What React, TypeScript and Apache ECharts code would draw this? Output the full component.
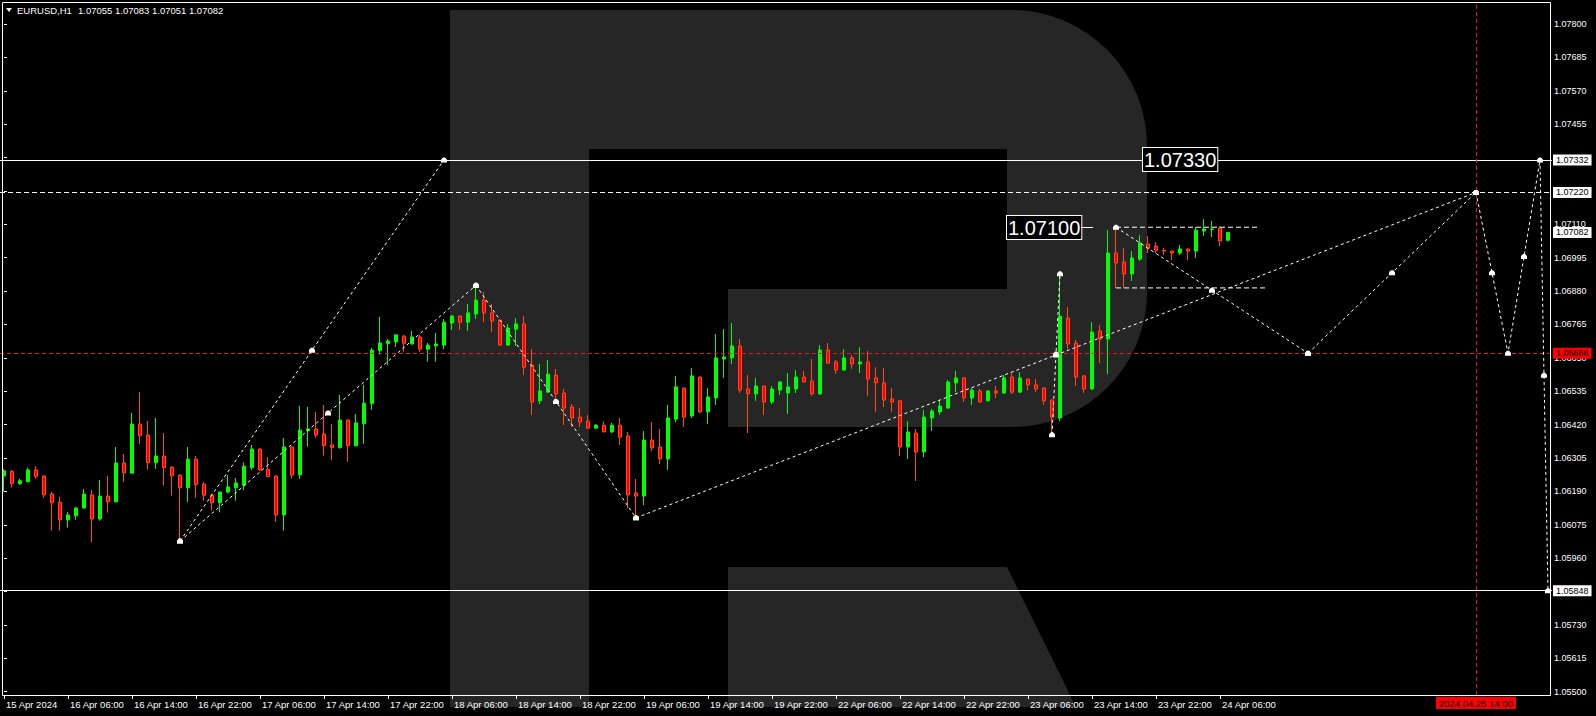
import React, { useEffect, useRef } from "react";
import * as echarts from "echarts";

// ---------- data ----------
const symbolName = "EURUSD,H1";

const opens = [
  1.06243,1.06259,1.06217,1.06223,1.06264,1.06243,1.06181,1.06153,1.06092,1.06106,
  1.06133,1.06178,1.06095,1.06174,1.06154,1.06288,1.06253,1.06422,1.06384,1.06289,
  1.06312,1.06273,1.06246,1.06203,1.06301,1.06215,1.06177,1.06151,1.06188,1.06203,
  1.06212,1.06272,1.06336,1.06266,1.06243,1.06109,1.06343,1.06247,1.06399,1.06405,
  1.06388,1.06350,1.06341,1.06436,1.06347,1.06423,1.06492,1.06675,1.06699,1.06705,
  1.06725,1.06698,1.06722,1.06680,1.06691,1.06694,1.06770,1.06794,1.06773,1.06801,
  1.06849,1.06805,1.06780,1.06694,1.06749,1.06767,1.06625,1.06502,1.06532,1.06591,
  1.06529,1.06481,1.06446,1.06432,1.06408,1.06418,1.06395,1.06418,1.06381,1.06185,
  1.06174,1.06367,1.06343,1.06302,1.06439,1.06546,1.06450,1.06584,1.06464,1.06512,
  1.06646,1.06650,1.06691,1.06543,1.06526,1.06553,1.06498,1.06539,1.06529,1.06543,
  1.06584,1.06570,1.06526,1.06677,1.06636,1.06608,1.06650,1.06629,1.06636,1.06581,
  1.06564,1.06508,1.06502,1.06343,1.06391,1.06326,1.06443,1.06464,1.06477,1.06564,
  1.06581,1.06512,1.06536,1.06502,1.06536,1.06529,1.06584,1.06532,1.06577,1.06557,
  1.06546,1.06505,1.06443,1.06787,1.06701,1.06588,1.06543,1.06743,1.06715,1.07011,
  1.06980,1.06939,1.06990,1.07042,1.07035,1.07021,1.07018,1.07011,1.07025,1.07018,
  1.07087,1.07092,1.07097,1.07055,
];
const highs = [
  1.06267,1.06264,1.06233,1.06272,1.06277,1.06245,1.06188,1.06171,1.06119,1.06137,
  1.06198,1.06195,1.06229,1.06243,1.06343,1.06319,1.06460,1.06532,1.06433,1.06443,
  1.06391,1.06277,1.06249,1.06343,1.06312,1.06222,1.06183,1.06189,1.06247,1.06236,
  1.06290,1.06350,1.06339,1.06308,1.06245,1.06374,1.06345,1.06484,1.06481,1.06464,
  1.06488,1.06422,1.06522,1.06439,1.06457,1.06557,1.06684,1.06791,1.06715,1.06731,
  1.06729,1.06743,1.06729,1.06701,1.06736,1.06784,1.06798,1.06796,1.06836,1.06901,
  1.06877,1.06836,1.06782,1.06767,1.06787,1.06794,1.06680,1.06629,1.06643,1.06612,
  1.06543,1.06491,1.06477,1.06453,1.06422,1.06432,1.06426,1.06443,1.06395,1.06233,
  1.06398,1.06429,1.06405,1.06488,1.06588,1.06548,1.06615,1.06586,1.06546,1.06732,
  1.06749,1.06770,1.06715,1.06591,1.06581,1.06555,1.06553,1.06570,1.06598,1.06608,
  1.06605,1.06646,1.06694,1.06701,1.06643,1.06680,1.06660,1.06687,1.06674,1.06618,
  1.06615,1.06546,1.06505,1.06432,1.06405,1.06470,1.06474,1.06505,1.06574,1.06605,
  1.06583,1.06546,1.06543,1.06539,1.06553,1.06591,1.06598,1.06601,1.06579,1.06577,
  1.06548,1.06507,1.06940,1.06825,1.06712,1.06590,1.06773,1.06763,1.07090,1.07100,
  1.07028,1.07018,1.07073,1.07070,1.07049,1.07028,1.07019,1.07039,1.07026,1.07101,
  1.07128,1.07122,1.07104,1.07083,
];
const lows = [
  1.06189,1.06204,1.06212,1.06222,1.06234,1.06168,1.06055,1.06055,1.06065,1.06092,
  1.06130,1.06015,1.06089,1.06117,1.06153,1.06223,1.06251,1.06354,1.06265,1.06268,
  1.06210,1.06175,1.06019,1.06154,1.06168,1.06158,1.06124,1.06118,1.06183,1.06158,
  1.06195,1.06264,1.06260,1.06239,1.06085,1.06055,1.06234,1.06233,1.06344,1.06375,
  1.06313,1.06298,1.06337,1.06292,1.06345,1.06354,1.06471,1.06661,1.06626,1.06688,
  1.06671,1.06696,1.06671,1.06637,1.06637,1.06680,1.06746,1.06746,1.06743,1.06784,
  1.06773,1.06739,1.06692,1.06691,1.06691,1.06591,1.06453,1.06491,1.06530,1.06508,
  1.06419,1.06412,1.06412,1.06406,1.06406,1.06394,1.06391,1.06350,1.06133,1.06099,
  1.06143,1.06329,1.06284,1.06264,1.06429,1.06412,1.06443,1.06460,1.06422,1.06488,
  1.06581,1.06629,1.06529,1.06391,1.06502,1.06453,1.06491,1.06522,1.06457,1.06529,
  1.06565,1.06519,1.06522,1.06629,1.06594,1.06605,1.06612,1.06598,1.06519,1.06464,
  1.06481,1.06464,1.06312,1.06302,1.06226,1.06308,1.06398,1.06453,1.06474,1.06532,
  1.06498,1.06488,1.06496,1.06500,1.06512,1.06527,1.06526,1.06529,1.06539,1.06532,
  1.06488,1.06385,1.06432,1.06680,1.06553,1.06529,1.06539,1.06632,1.06594,1.06891,
  1.06891,1.06915,1.06984,1.07011,1.07011,1.07004,1.06987,1.07004,1.06987,1.06994,
  1.07070,1.07066,1.07035,1.07051,
];
const closes = [
  1.06261,1.06218,1.06227,1.06264,1.06241,1.06178,1.06151,1.06092,1.06109,1.06133,
  1.06181,1.06095,1.06174,1.06154,1.06288,1.06254,1.06422,1.06382,1.06289,1.06312,
  1.06272,1.06244,1.06203,1.06301,1.06214,1.06177,1.06151,1.06188,1.06205,1.06219,
  1.06277,1.06336,1.06264,1.06241,1.06109,1.06343,1.06246,1.06401,1.06405,1.06384,
  1.06347,1.06341,1.06436,1.06347,1.06426,1.06494,1.06677,1.06701,1.06708,1.06729,
  1.06700,1.06722,1.06680,1.06694,1.06698,1.06773,1.06794,1.06773,1.06805,1.06849,
  1.06805,1.06777,1.06694,1.06753,1.06767,1.06618,1.06498,1.06536,1.06594,1.06526,
  1.06477,1.06443,1.06429,1.06408,1.06418,1.06395,1.06418,1.06377,1.06178,1.06174,
  1.06367,1.06340,1.06302,1.06443,1.06550,1.06446,1.06588,1.06464,1.06515,1.06650,
  1.06653,1.06691,1.06539,1.06526,1.06553,1.06498,1.06543,1.06567,1.06550,1.06584,
  1.06567,1.06526,1.06677,1.06632,1.06608,1.06650,1.06629,1.06636,1.06577,1.06564,
  1.06505,1.06498,1.06343,1.06395,1.06326,1.06446,1.06467,1.06484,1.06567,1.06581,
  1.06512,1.06539,1.06498,1.06536,1.06529,1.06581,1.06532,1.06581,1.06557,1.06543,
  1.06502,1.06446,1.06794,1.06698,1.06584,1.06543,1.06739,1.06715,1.07011,1.06977,
  1.06939,1.06994,1.07046,1.07028,1.07021,1.07018,1.07011,1.07025,1.07018,1.07090,
  1.07094,1.07094,1.07053,1.07082,
];

const xTickLabels = [
  "15 Apr 2024", "16 Apr 06:00", "16 Apr 14:00", "16 Apr 22:00", "17 Apr 06:00",
  "17 Apr 14:00", "17 Apr 22:00", "18 Apr 06:00", "18 Apr 14:00", "18 Apr 22:00",
  "19 Apr 06:00", "19 Apr 14:00", "19 Apr 22:00", "22 Apr 06:00", "22 Apr 14:00",
  "22 Apr 22:00", "23 Apr 06:00", "23 Apr 14:00", "23 Apr 22:00", "24 Apr 06:00",
];
const barsPerTick = 8;
const futureBars = 40;

const yTicks = [
  1.055, 1.05615, 1.0573, 1.05845, 1.0596, 1.06075, 1.0619, 1.06305, 1.0642, 1.06535,
  1.0665, 1.06765, 1.0688, 1.06995, 1.0711, 1.07225, 1.0734, 1.07455, 1.0757, 1.07685, 1.078,
];
const yMin = 1.054888;
const yMax = 1.078758;

// analysis (wave) polylines: [bar index, price]
const waveA = [[22, 1.06019], [38.5, 1.06676], [55, 1.07332]];
const waveB = [[22, 1.06019], [40.5, 1.0646], [59, 1.069]];
const waveC = [[59, 1.069], [69, 1.065], [79, 1.06099]];
const waveD = [[79, 1.06099], [131.5, 1.0666], [184, 1.0722]];
const waveE = [[131, 1.06385], [131.5, 1.06663], [132, 1.0694]];
const waveF = [[139, 1.071], [151, 1.06883], [163, 1.06666]];
const waveG = [[163, 1.06666], [173.5, 1.06943], [184, 1.0722]];
const waveH = [[184, 1.0722], [186, 1.06943], [188, 1.06666], [190, 1.06999], [192, 1.07332], [192.5, 1.0659], [193, 1.05848]];
const flagTop = [[139, 1.071], [157, 1.071]];
const flagBottom = [[139, 1.06891], [158, 1.06891]];

const levelTarget = 1.07332;
const levelDashed = 1.0722;
const levelPivot = 1.06666;
const levelStop = 1.05848;
const bidPrice = 1.07082;
const timeLineBar = 184;
const timeLineLabel = "2024.04.25 14:00";
const boxTargetText = "1.07330";
const boxFlagText = "1.07100";

// ---------- drawing ----------
const FONT = "'Liberation Sans', Arial, sans-serif";
const R_PATH =
  "M450 10 L1011 10 A136 136 0 0 1 1147 146 L1147 292 A135 135 0 0 1 1012 427 L728 427 L728 289 L1007 289 L1007 149 L589 149 L589 707 L450 707 Z " +
  "M728 567 L1007 567 L1076 707 L728 707 Z";

let logoRegistered = false;
function registerLogo() {
  if (logoRegistered) return;
  echarts.graphic.registerShape("rlogo", echarts.graphic.extendPath(R_PATH, {}));
  logoRegistered = true;
}

const MARKER = "path://M2,0 L4,0 L6,2 L6,5 L0,5 L0,2 Z";

function waveSeries(data: number[][], withMarkers = true, dash: number[] = [3, 3]) {
  return {
    type: "line",
    xAxisIndex: 1,
    yAxisIndex: 0,
    data,
    silent: true,
    symbol: withMarkers ? MARKER : "none",
    symbolSize: [6, 5],
    showSymbol: withMarkers,
    itemStyle: { color: "#ffffff" },
    lineStyle: { color: "#ffffff", width: 1, type: dash },
    z: 5,
  };
}

function priceTag(value: number, text: string, bg: string, lineStyle: any) {
  return {
    yAxis: value,
    lineStyle,
    label: {
      show: true,
      position: "end",
      distance: 1,
      formatter: text,
      backgroundColor: bg,
      color: "#000000",
      padding: [1, 3, 0, 3],
      fontSize: 9,
      lineHeight: 10,
      fontFamily: FONT,
    },
  };
}

export default function App() {
  const ref = useRef<HTMLDivElement>(null);

  useEffect(() => {
    document.body.style.margin = "0";
    document.body.style.background = "#000";
    registerLogo();
    const chart = echarts.init(ref.current!, null, { renderer: "svg" });

    const nCat = opens.length + futureBars;
    const categories = Array.from({ length: nCat }, (_, i) => String(i));
    const candles = opens.map((o, i) => [o, closes[i], lows[i], highs[i]]);
    const showTick = (idx: number) => idx % barsPerTick === 0 && idx / barsPerTick < xTickLabels.length;
    const last = opens.length - 1;
    const headerValues = [opens[last], highs[last], lows[last], closes[last]].map((v) => v.toFixed(5)).join(" ");

    const markLines = {
      silent: true,
      symbol: ["none", "none"],
      precision: 5,
      animation: false,
      data: [
        priceTag(levelTarget, levelTarget.toFixed(5), "#ffffff", { color: "#ffffff", width: 1, type: "solid" }),
        priceTag(levelDashed, levelDashed.toFixed(5), "#ffffff", { color: "#ffffff", width: 1, type: [5, 3] }),
        priceTag(levelPivot, levelPivot.toFixed(5), "#ff0000", { color: "#d42020", width: 1, type: [4, 3] }),
        priceTag(levelStop, levelStop.toFixed(5), "#ffffff", { color: "#ffffff", width: 1, type: "solid" }),
        priceTag(bidPrice, bidPrice.toFixed(5), "#ffffff", { color: "rgba(0,0,0,0)", width: 1, type: "solid" }),
        {
          xAxis: timeLineBar,
          lineStyle: { color: "#d42020", width: 1, type: [4, 3] },
          label: {
            show: true,
            position: "start",
            distance: 2,
            formatter: timeLineLabel,
            backgroundColor: "#ff0000",
            color: "#000000",
            padding: [1, 3, 0, 3],
            fontSize: 9.5,
            lineHeight: 11,
            fontFamily: FONT,
          },
        },
      ],
    };

    const lineA: any = waveSeries(waveA);
    lineA.markLine = markLines;

    chart.setOption({
      animation: false,
      backgroundColor: "#000000",
      grid: { left: 0, right: 44, top: 2, bottom: 21, containLabel: false, outerBoundsMode: "none" },
      xAxis: [
        {
          type: "category",
          data: categories,
          boundaryGap: true,
          axisLine: { show: false },
          axisTick: { show: true, alignWithLabel: true, length: 4, interval: showTick, lineStyle: { color: "#ffffff" } },
          axisLabel: {
            interval: showTick,
            formatter: (_v: string, i: number) => xTickLabels[i / barsPerTick] ?? "",
            color: "#ffffff",
            fontSize: 9.5,
            fontFamily: FONT,
            align: "left",
            margin: 4,
            padding: [0, 0, 0, 2],
          },
          splitLine: { show: false },
        },
        { type: "value", min: -0.5, max: nCat - 0.5, show: false },
      ],
      yAxis: {
        type: "value",
        position: "right",
        offset: -2,
        min: yMin,
        max: yMax,
        splitLine: { show: false },
        axisLine: { show: false },
        axisTick: { show: true, length: 3, customValues: yTicks, lineStyle: { color: "#ffffff" } },
        axisLabel: {
          customValues: yTicks,
          formatter: (v: number) => v.toFixed(5),
          color: "#ffffff",
          fontSize: 9,
          fontFamily: FONT,
          margin: 4,
        },
      },
      series: [
        {
          type: "candlestick",
          xAxisIndex: 0,
          yAxisIndex: 0,
          data: candles,
          barWidth: 4,
          silent: true,
          itemStyle: {
            color: "#00ff00",
            color0: "#ff0000",
            borderColor: "#00ff00",
            borderColor0: "#ff4a1c",
            borderWidth: 1,
          },
          z: 3,
        },
        lineA,
        waveSeries(waveB),
        waveSeries(waveC),
        waveSeries(waveD),
        waveSeries(waveE),
        waveSeries(waveF),
        waveSeries(waveG),
        waveSeries(waveH),
        waveSeries(flagTop, false, [5, 3]),
        waveSeries(flagBottom, false, [5, 3]),
      ],
      graphic: [
        { type: "rlogo", x: 0, y: 0, silent: true, z: -10, style: { fill: "#262626" } },
        {
          type: "rect",
          silent: true,
          z: 100,
          shape: { x: 2.5, y: 2.5, width: 1548, height: 693 },
          style: { fill: "none", stroke: "#ffffff", lineWidth: 1 },
        },
        {
          type: "polygon",
          silent: true,
          z: 100,
          shape: { points: [[6, 8], [12, 8], [9, 12]] },
          style: { fill: "#ffffff" },
        },
        {
          type: "text",
          silent: true,
          z: 100,
          x: 17,
          y: 10,
          style: { text: symbolName, fill: "#ffffff", fontSize: 9.5, fontFamily: FONT, verticalAlign: "middle" },
        },
        {
          type: "text",
          silent: true,
          z: 100,
          x: 78,
          y: 10,
          style: { text: headerValues, fill: "#ffffff", fontSize: 9.5, fontFamily: FONT, verticalAlign: "middle" },
        },
        {
          type: "text",
          silent: true,
          z: 100,
          x: 1143,
          y: 148,
          style: {
            text: boxTargetText,
            fill: "#ffffff",
            fontSize: 20,
            fontFamily: FONT,
            backgroundColor: "#000000",
            borderColor: "#ffffff",
            borderWidth: 1,
            padding: [2, 1, 1, 1],
          },
        },
        {
          type: "text",
          silent: true,
          z: 100,
          x: 1007,
          y: 216,
          style: {
            text: boxFlagText,
            fill: "#ffffff",
            fontSize: 20,
            fontFamily: FONT,
            backgroundColor: "#000000",
            borderColor: "#ffffff",
            borderWidth: 1,
            padding: [2, 1, 1, 1],
          },
        },
        {
          type: "line",
          silent: true,
          z: 100,
          shape: { x1: 1082, y1: 227.5, x2: 1093, y2: 227.5 },
          style: { stroke: "#ffffff", lineWidth: 1 },
        },
      ],
    });

    return () => chart.dispose();
  }, []);

  return (
    <div
      ref={ref}
      style={{ position: "fixed", left: 0, top: 0, width: 1596, height: 716, background: "#000" }}
    />
  );
}
